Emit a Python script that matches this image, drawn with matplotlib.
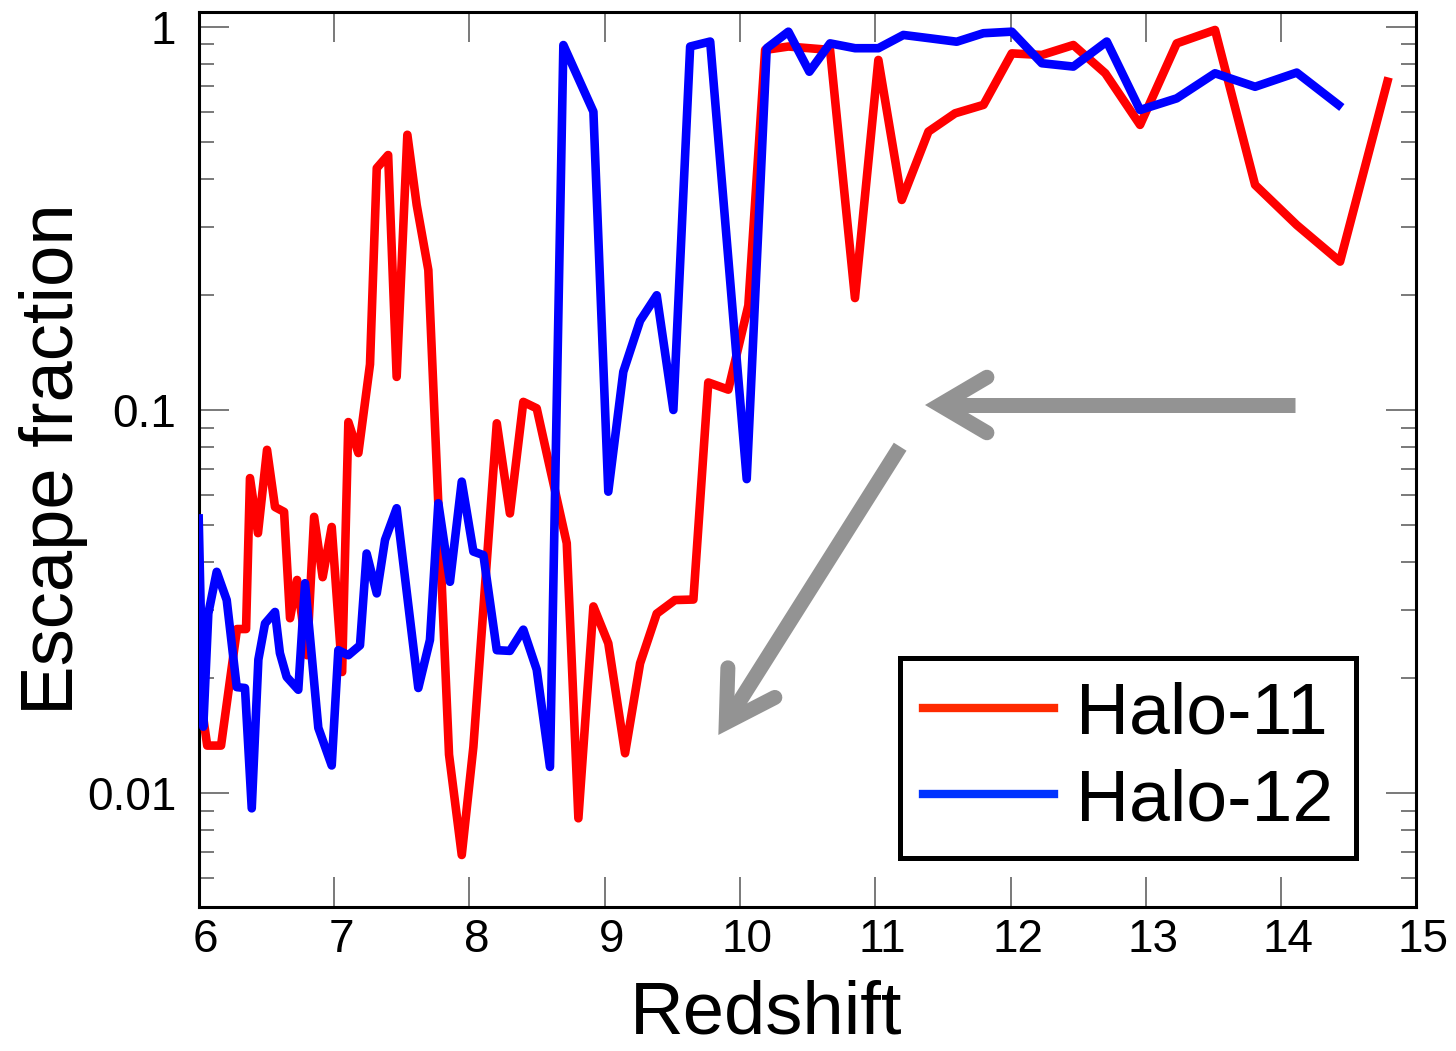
import numpy as np
import matplotlib
matplotlib.use("Agg")
import matplotlib.pyplot as plt
import matplotlib.transforms as mtransforms
from matplotlib.lines import Line2D
from matplotlib.ticker import LogLocator, NullFormatter

# --- data -------------------------------------------------------------
series_names = ["Halo-11", "Halo-12"]

z_halo11 = [6.02, 6.063, 6.165, 6.283, 6.35, 6.379, 6.438, 6.505, 6.564, 6.631,
            6.675, 6.727, 6.80, 6.853, 6.916, 6.983, 7.06, 7.106, 7.18, 7.266,
            7.316, 7.40, 7.463, 7.542, 7.611, 7.697, 7.85, 7.944, 8.03, 8.203,
            8.30, 8.399, 8.498, 8.572, 8.72, 8.806, 8.917, 9.027, 9.151, 9.262,
            9.385, 9.52, 9.656, 9.766, 9.914, 10.062, 10.186, 10.358, 10.666, 10.85,
            11.023, 11.196, 11.393, 11.59, 11.80, 12.009, 12.231, 12.464, 12.70, 12.957,
            13.228, 13.511, 13.807, 14.115, 14.435, 14.785]
fesc_halo11 = [0.017, 0.0133, 0.0133, 0.0268, 0.0268, 0.0664, 0.0477, 0.0787, 0.0558, 0.0542,
               0.0286, 0.036, 0.0229, 0.0526, 0.0366, 0.0495, 0.0207, 0.093, 0.0772, 0.1316,
               0.428, 0.463, 0.122, 0.523, 0.343, 0.232, 0.0126, 0.00689, 0.0132, 0.0923,
               0.0537, 0.105, 0.101, 0.077, 0.0449, 0.00859, 0.0307, 0.0246, 0.0127, 0.0218,
               0.0294, 0.0319, 0.032, 0.118, 0.113, 0.1875, 0.871, 0.889, 0.871, 0.196,
               0.82, 0.3535, 0.533, 0.595, 0.626, 0.853, 0.845, 0.897, 0.757, 0.555,
               0.906, 0.982, 0.387, 0.304, 0.244, 0.72]

z_halo12 = [6.0, 6.034, 6.071, 6.133, 6.207, 6.281, 6.342, 6.392, 6.441, 6.49,
            6.564, 6.60, 6.65, 6.736, 6.786, 6.884, 6.983, 7.032, 7.106, 7.192,
            7.241, 7.316, 7.377, 7.463, 7.623, 7.709, 7.771, 7.857, 7.944, 8.03,
            8.104, 8.203, 8.30, 8.399, 8.498, 8.596, 8.695, 8.917, 9.027, 9.138,
            9.262, 9.385, 9.508, 9.632, 9.78, 10.05, 10.198, 10.358, 10.513, 10.666,
            10.851, 11.023, 11.208, 11.405, 11.602, 11.799, 12.009, 12.231, 12.464, 12.711,
            12.957, 13.228, 13.511, 13.807, 14.115, 14.423]
fesc_halo12 = [0.0521, 0.0149, 0.0294, 0.0378, 0.0319, 0.0189, 0.0188, 0.00912, 0.0223, 0.0277,
               0.0297, 0.0232, 0.0201, 0.0186, 0.0353, 0.0148, 0.0118, 0.0236, 0.0229, 0.0243,
               0.0422, 0.0332, 0.0458, 0.0554, 0.0188, 0.0251, 0.0571, 0.0356, 0.065, 0.0427,
               0.0418, 0.0236, 0.0235, 0.0267, 0.0210, 0.0117, 0.897, 0.601, 0.0612, 0.1258,
               0.171, 0.1993, 0.1, 0.889, 0.916, 0.066, 0.88, 0.972, 0.764, 0.906,
               0.88, 0.88, 0.953, 0.934, 0.915, 0.963, 0.972, 0.804, 0.788, 0.916,
               0.607, 0.651, 0.757, 0.698, 0.76, 0.626]

x_ticks = [6, 7, 8, 9, 10, 11, 12, 13, 14, 15]
x_tick_labels = ["6", "7", "8", "9", "10", "11", "12", "13", "14", "15"]
y_ticks = [0.01, 0.1, 1]
y_tick_labels = ["0.01", "0.1", "1"]

# --- figure -----------------------------------------------------------
plt.rcParams["font.family"] = ["Liberation Sans", "DejaVu Sans"]

fig = plt.figure(figsize=(14.56, 10.51), dpi=100)
ax = fig.add_axes([0.13647, 0.13701, 0.83640, 0.85157])

ax.plot(z_halo11, fesc_halo11, color="#ff0000", lw=6.2,
        solid_joinstyle="round", zorder=3)
ax.plot(z_halo12, fesc_halo12, color="#0000ff", lw=6.2,
        solid_joinstyle="round", zorder=4)

ax.set_yscale("log")
ax.set_xlim(6, 15)
ax.set_ylim(0.00504, 1.094)

ax.set_xticks(x_ticks)
ax.set_xticklabels(x_tick_labels)
ax.set_yticks(y_ticks)
ax.set_yticklabels(y_tick_labels)
ax.yaxis.set_minor_locator(LogLocator(base=10, subs=np.arange(2, 10)))
ax.yaxis.set_minor_formatter(NullFormatter())

tick_color = "#555555"
ax.tick_params(axis="x", which="major", direction="in", length=21.6, width=1.1,
               color=tick_color, top=True, bottom=True, labelsize=33, pad=8)
ax.tick_params(axis="y", which="major", direction="in", length=21.6, width=1.1,
               color=tick_color, left=True, right=True, labelsize=33, pad=16)
ax.tick_params(axis="y", which="minor", direction="in", length=10.8, width=1.1,
               color=tick_color, left=True, right=True)

# x tick numbers sit a little to the right of their ticks
shift = mtransforms.ScaledTranslation(7 / 100, 0, fig.dpi_scale_trans)
for lbl in ax.get_xticklabels():
    lbl.set_transform(lbl.get_transform() + shift)

for sp in ax.spines.values():
    sp.set_linewidth(2.2)
    sp.set_color("black")

ax.set_xlabel("Redshift", fontsize=53.5)
ax.xaxis.set_label_coords(0.466, -0.081)
ax.set_ylabel("Escape fraction", fontsize=53.5)
ax.yaxis.set_label_coords(-0.091, 0.5)


# --- open-headed grey arrows ----------------------------------------
def chevron_arrow(ax, tail, tip, color="#939393", lw_pt=10.8,
                  half_angle_deg=30.5, arm_px=54.7):
    T = ax.transAxes
    p_tail = np.array(T.transform(tail), dtype=float)
    p_tip = np.array(T.transform(tip), dtype=float)
    u = p_tail - p_tip
    u /= np.hypot(*u)
    half = np.deg2rad(half_angle_deg)
    lw_px = lw_pt * ax.figure.dpi / 72.0
    vertex = p_tip + u * (lw_px / 2.0 / np.sin(half))

    def rot(v, a):
        c, s = np.cos(a), np.sin(a)
        return np.array([c * v[0] - s * v[1], s * v[0] + c * v[1]])

    a1 = vertex + rot(u, half) * arm_px
    a2 = vertex + rot(u, -half) * arm_px
    inv = T.inverted()
    shaft = inv.transform(np.array([p_tail, vertex]))
    head = inv.transform(np.array([a1, vertex, a2]))
    ax.plot(shaft[:, 0], shaft[:, 1], transform=T, color=color, lw=lw_pt,
            solid_capstyle="butt", clip_on=False, zorder=5)
    ax.plot(head[:, 0], head[:, 1], transform=T, color=color, lw=lw_pt,
            solid_capstyle="round", solid_joinstyle="miter", clip_on=False, zorder=5)


chevron_arrow(ax, tail=(0.9003, 0.5609), tip=(0.5964, 0.5609))
chevron_arrow(ax, tail=(0.5760, 0.5143), tip=(0.4267, 0.1922))

# --- legend ------------------------------------------------------------
handles = [Line2D([], [], color="#ff2a00", lw=6.0),
           Line2D([], [], color="#0033ff", lw=6.0)]
leg = ax.legend(handles, series_names, loc="upper left",
                bbox_to_anchor=(0.576, 0.278), fontsize=52.8, frameon=True,
                fancybox=False, edgecolor="black", framealpha=1,
                borderaxespad=0, handlelength=1.78, handletextpad=0.30,
                labelspacing=0.27, borderpad=0.315)
leg.get_frame().set_linewidth(3.6)
leg.set_zorder(6)

fig.savefig("out.png", dpi=100)
